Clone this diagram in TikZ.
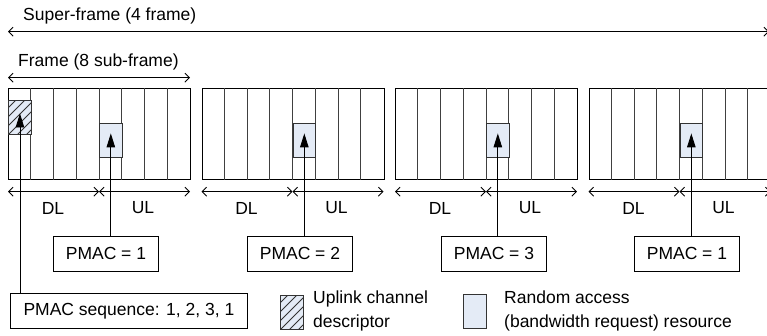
\documentclass[tikz,border=0pt]{standalone}
\usepackage{fontspec}
\setmainfont{Liberation Sans}
\usetikzlibrary{arrows.meta}
\definecolor{rafill}{HTML}{E4EBF6}
\definecolor{edge}{HTML}{333333}
\tikzset{
  lbl/.style={font=\fontsize{17.5}{24.5}\selectfont, inner sep=0pt},
  frm/.style={draw=black, line width=0.9pt, minimum width=182pt, minimum height=91pt, inner sep=0pt, anchor=north west},
  sub/.style={draw=black!75, line width=0.9pt},
  rabox/.style={draw=edge, fill=rafill, line width=0.9pt, minimum width=22.75pt, minimum height=34.5pt, inner sep=0pt, anchor=north west},
  hbox/.style={draw=edge, line width=0.9pt, minimum width=23pt, minimum height=34pt, inner sep=0pt, anchor=north west},
  pmac/.style={draw=black, line width=0.9pt, minimum width=105pt, minimum height=35pt, inner sep=0pt, anchor=north west, font=\fontsize{17.5}{20}\selectfont},
  span/.style={line width=0.9pt, {Straight Barb[length=4.5pt,width=9pt]}-{Straight Barb[length=4.5pt,width=9pt]}},
  up/.style={line width=0.9pt, -{Triangle[length=14pt,width=8.5pt]}},
  hatch/.style={draw=black!80, line width=0.9pt}
}
\newcommand{\hatchfill}[1]{%
  \fill[rafill] (#1.south west) rectangle (#1.north east);
  \begin{scope}
    \clip (#1.south west) rectangle (#1.north east);
    \foreach \k in {-45,-36,...,30} {
      \draw[hatch] ([xshift=\k pt]#1.south west) -- ++(45pt,45pt);
    }
  \end{scope}
  \draw[draw=edge, line width=0.9pt] (#1.south west) rectangle (#1.north east);
}
\begin{document}
\begin{tikzpicture}[x=1pt,y=-1pt]
\clip (0,0) rectangle (767,335);

% super-frame
\node[lbl, anchor=west] (suptxt) at (23,15.5) {Super-frame (4 frame)};
\coordinate (supL) at (8,31.7);
\coordinate (supR) at (769,31.7);
\draw[span] (supL) -- (supR);

% frame label
\node[lbl, anchor=west] (frtxt) at (18,61.7) {Frame (8 sub-frame)};
\coordinate (frL) at (8,77.7);
\coordinate (frR) at (190,77.7);
\draw[span] (frL) -- (frR);

% frames
\foreach \i/\L in {1/8, 2/201.5, 3/395, 4/588.5} {
  \node[frm] (fr\i) at (\L,88) {};
  \foreach \s in {1,...,7} {
    \draw[sub] ([xshift=\s*22.75pt]fr\i.north west) -- ([xshift=\s*22.75pt]fr\i.south west);
  }
  \node[rabox] (ra\i) at (\L+91,122.7) {};
  \coordinate (dl\i) at (\L,191.7);
  \coordinate (mid\i) at (\L+91,191.7);
  \coordinate (ul\i) at (\L+182,191.7);
  \draw[span] (dl\i) -- (mid\i);
  \draw[span] (mid\i) -- (ul\i);
  \node[lbl] (dlt\i) at (\L+45,208) {DL};
  \node[lbl] (ult\i) at (\L+135,208) {UL};
}

% hatched UCD box
\node[hbox] (ucd) at (8,100) {};
\hatchfill{ucd}

% PMAC boxes
\node[pmac] (p1) at (53,236) {PMAC = 1};
\node[pmac] (p2) at (247,236) {PMAC = 2};
\node[pmac] (p3) at (441,236) {PMAC = 3};
\node[pmac] (p4) at (634,236) {PMAC = 1};

\foreach \i in {1,...,4} {
  \draw[up] (ra\i.center |- p\i.north) -- ([yshift=7pt]ra\i.center);
}

% PMAC sequence
\node[pmac, minimum width=237pt] (seq) at (10,293) {PMAC sequence: 1, 2, 3, 1};
\draw[up] (ucd.center |- seq.north) -- ([yshift=4pt]ucd.center);

% legend
\node[hbox] (lgh) at (280,295) {};
\hatchfill{lgh}
\node[lbl, anchor=north west, align=left] (lghtxt) at (313,290.5) {Uplink channel\\descriptor};
\node[rabox, minimum width=23pt, minimum height=34pt] (lgr) at (463,294) {};
\node[lbl, anchor=north west, align=left] (lgrtxt) at (504,290.5) {Random access\\(bandwidth request) resource};
\end{tikzpicture}
\end{document}
